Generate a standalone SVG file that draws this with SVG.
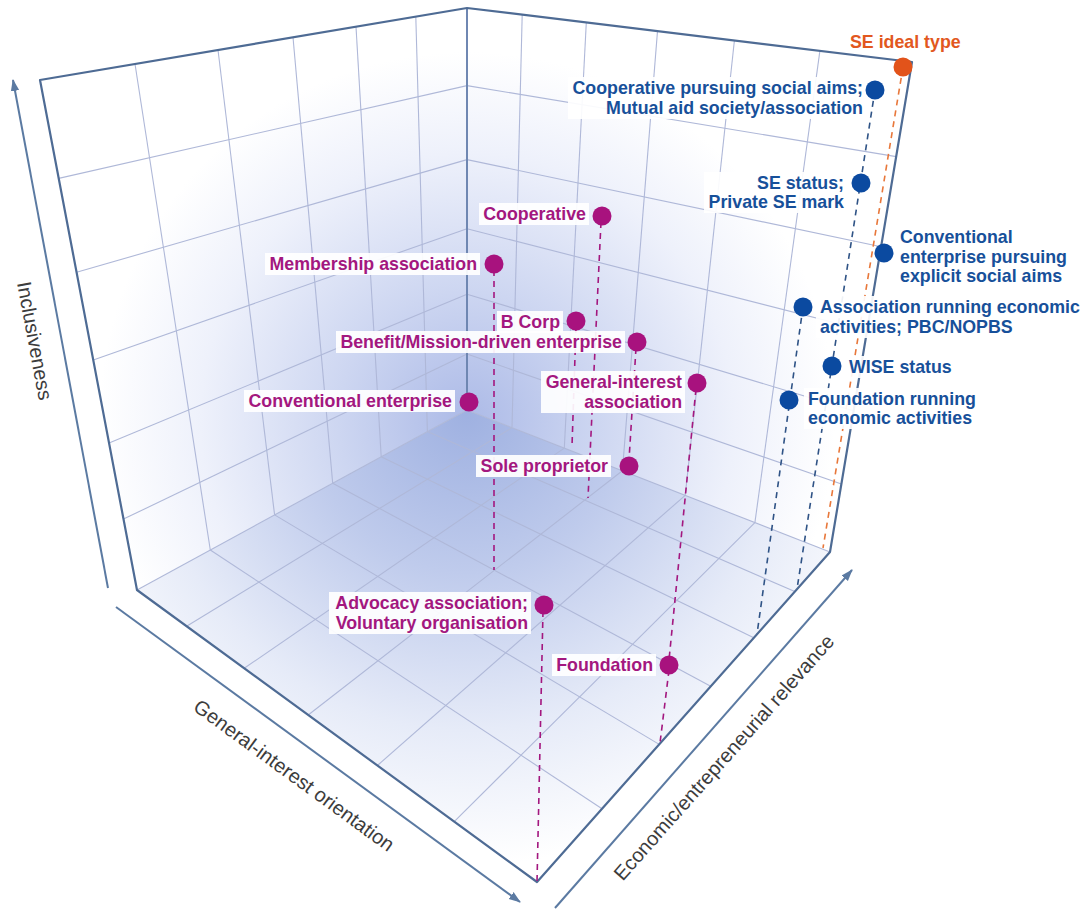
<svg xmlns="http://www.w3.org/2000/svg" width="1085" height="909" viewBox="0 0 1085 909">
<style>
.grid{stroke:#afb8d8;stroke-width:1.1;fill:none}
.edge{stroke:#4e6b94;stroke-width:2.2;fill:none;stroke-linejoin:round}
.axis{stroke:#5b7aa2;stroke-width:2;fill:none;marker-end:url(#ah)}
.axl{font-family:"Liberation Sans",Arial,sans-serif;font-size:20px;fill:#3c3c3c;text-anchor:middle}
.lbl{font-family:"Liberation Sans",Arial,sans-serif;font-size:17.8px;font-weight:bold}
.m{fill:#a3177f}
.b{fill:#17509a}
.o{fill:#e2581e}
.bx{fill:#ffffff;fill-opacity:0.92}
.e{text-anchor:end}
.dm{stroke:#a3177f;stroke-width:1.6;stroke-dasharray:6 5;fill:none}
.db{stroke:#2f5386;stroke-width:1.6;stroke-dasharray:6 5;fill:none}
.do{stroke:#e8773a;stroke-width:1.6;stroke-dasharray:6 5;fill:none}
.dotm{fill:#a8127e}
.dotb{fill:#0b4aa0}
.doto{fill:#e2531a}
</style>
<defs>
<radialGradient id="gFloor" gradientUnits="userSpaceOnUse" cx="467" cy="415" r="450">
<stop offset="0" stop-color="#9fb1e1"/>
<stop offset="0.35" stop-color="#bfcbec"/>
<stop offset="0.7" stop-color="#e6ebf8"/>
<stop offset="1" stop-color="#ffffff"/>
</radialGradient>
<radialGradient id="gWall" gradientUnits="userSpaceOnUse" cx="467" cy="420" r="460">
<stop offset="0" stop-color="#acbae7"/>
<stop offset="0.28" stop-color="#cdd6f1"/>
<stop offset="0.58" stop-color="#eef1fb"/>
<stop offset="0.8" stop-color="#ffffff"/>
</radialGradient>
<marker id="ah" viewBox="0 0 12 10" refX="11" refY="5" markerWidth="12" markerHeight="10" markerUnits="userSpaceOnUse" orient="auto">
<path d="M0,0.8 L12,5 L0,9.2 Z" fill="#5b7aa2"/>
</marker>
</defs>

<g id="box">
<polygon points="40,80 467,8 467,410 137,590" fill="url(#gWall)"/>
<polygon points="467,8 912,62 830,552 467,410" fill="url(#gWall)"/>
<polygon points="467,410 830,552 537,882 137,590" fill="url(#gFloor)"/>
<g class="grid">
<line x1="135" y1="64" x2="210.3" y2="550"/>
<line x1="218" y1="50" x2="274.6" y2="514.9"/>
<line x1="293" y1="37.3" x2="332.7" y2="483.3"/>
<line x1="356" y1="26.7" x2="381.2" y2="456.8"/>
<line x1="415.8" y1="16.6" x2="427.4" y2="431.6"/>
<line x1="58.7" y1="178.4" x2="467" y2="85.6"/>
<line x1="76.6" y1="272.3" x2="467" y2="159.6"/>
<line x1="93.3" y1="360" x2="467" y2="228.7"/>
<line x1="109.1" y1="443.1" x2="467" y2="294.2"/>
<line x1="123.5" y1="519.1" x2="467" y2="354.1"/>
<line x1="522.2" y1="14.7" x2="512" y2="427.6"/>
<line x1="586.3" y1="22.5" x2="564.3" y2="448.1"/>
<line x1="657.5" y1="31.1" x2="622.4" y2="470.8"/>
<line x1="734.4" y1="40.5" x2="685.2" y2="495.3"/>
<line x1="819.9" y1="50.8" x2="754.9" y2="522.6"/>
<line x1="467" y1="85.6" x2="896.2" y2="156.6"/>
<line x1="467" y1="159.6" x2="881.1" y2="246.7"/>
<line x1="467" y1="228.7" x2="867" y2="331"/>
<line x1="467" y1="294.2" x2="853.6" y2="410.9"/>
<line x1="467" y1="354.1" x2="841.4" y2="483.9"/>
<line x1="210.3" y1="550" x2="602" y2="808.7"/>
<line x1="274.6" y1="514.9" x2="659.2" y2="744.4"/>
<line x1="332.7" y1="483.3" x2="710.7" y2="686.3"/>
<line x1="381.2" y1="456.8" x2="753.8" y2="637.8"/>
<line x1="427.4" y1="431.6" x2="794.8" y2="591.6"/>
<line x1="512" y1="427.6" x2="186.6" y2="626.2"/>
<line x1="564.3" y1="448.1" x2="244.2" y2="668.3"/>
<line x1="622.4" y1="470.8" x2="308.2" y2="715"/>
<line x1="685.2" y1="495.3" x2="377.4" y2="765.5"/>
<line x1="754.9" y1="522.6" x2="454.2" y2="821.6"/>
<line x1="137" y1="590" x2="467" y2="410"/>
<line x1="467" y1="410" x2="830" y2="552"/>
</g>
<line x1="467" y1="8" x2="467" y2="410" stroke="#6f87b2" stroke-width="2"/>
<polygon class="edge" points="137,590 40,80 467,8 912,62 830,552 537,882"/>
</g>

<g id="axes">
<line class="axis" x1="108" y1="588" x2="13" y2="80"/>
<line class="axis" x1="116" y1="607" x2="520" y2="902"/>
<line class="axis" x1="555" y1="908" x2="852" y2="570"/>
<text class="axl" transform="translate(28,342) rotate(79.4)">Inclusiveness</text>
<text class="axl" transform="translate(290,781) rotate(36.1)">General-interest orientation</text>
<text class="axl" transform="translate(729,762) rotate(-48.4)">Economic/entrepreneurial relevance</text>
</g>

<g id="connectors">
<line class="dm" x1="494" y1="270" x2="494" y2="570"/>
<line class="dm" x1="601" y1="222" x2="588" y2="498"/>
<line class="dm" x1="576" y1="327" x2="572" y2="446"/>
<line class="dm" x1="636" y1="348" x2="629" y2="460"/>
<line class="dm" x1="696" y1="389" x2="669" y2="660"/>
<line class="dm" x1="669" y1="670" x2="660" y2="743"/>
<line class="dm" x1="543" y1="611" x2="537" y2="882"/>
<line class="db" x1="875" y1="90" x2="797" y2="589"/>
<line class="db" x1="803" y1="307" x2="757" y2="634"/>
<line class="do" x1="903" y1="67" x2="823" y2="548"/>
</g>

<g id="n-se-ideal">
<text class="lbl o" x="850" y="48">SE ideal type</text>
<circle class="doto" cx="903" cy="67" r="9.5"/>
</g>
<g id="n-coop-social">
<rect class="bx" x="568" y="77" width="298" height="42"/>
<text class="lbl b e" x="863" y="94">Cooperative pursuing social aims;</text>
<text class="lbl b e" x="863" y="114">Mutual aid society/association</text>
<circle class="dotb" cx="875" cy="90" r="9.5"/>
</g>
<g id="n-se-status">
<rect class="bx" x="704" y="172" width="143" height="41"/>
<text class="lbl b e" x="844" y="189">SE status;</text>
<text class="lbl b e" x="844" y="208">Private SE mark</text>
<circle class="dotb" cx="861" cy="183" r="9.5"/>
</g>
<g id="n-conv-social">
<rect class="bx" x="896" y="226" width="175" height="61"/>
<text class="lbl b" x="900" y="243">Conventional</text>
<text class="lbl b" x="900" y="262.5">enterprise pursuing</text>
<text class="lbl b" x="900" y="282">explicit social aims</text>
<circle class="dotb" cx="884" cy="253" r="9.5"/>
</g>
<g id="n-assoc-econ">
<rect class="bx" x="816" y="296" width="267" height="42"/>
<text class="lbl b" x="820" y="313">Association running economic</text>
<text class="lbl b" x="820" y="333">activities; PBC/NOPBS</text>
<circle class="dotb" cx="803" cy="307" r="9.5"/>
</g>
<g id="n-wise">
<rect class="bx" x="845" y="356" width="110" height="22"/>
<text class="lbl b" x="849" y="373">WISE status</text>
<circle class="dotb" cx="832" cy="366" r="9.5"/>
</g>
<g id="n-found-econ">
<rect class="bx" x="804" y="388" width="176" height="41"/>
<text class="lbl b" x="808" y="405">Foundation running</text>
<text class="lbl b" x="808" y="424">economic activities</text>
<circle class="dotb" cx="789" cy="400" r="9.5"/>
</g>

<g id="n-cooperative">
<rect class="bx" x="479" y="203" width="110" height="22"/>
<text class="lbl m e" x="586" y="220">Cooperative</text>
<circle class="dotm" cx="602" cy="216" r="9.5"/>
</g>
<g id="n-membership">
<rect class="bx" x="265" y="253" width="215" height="22"/>
<text class="lbl m e" x="477" y="270">Membership association</text>
<circle class="dotm" cx="494" cy="264" r="9.5"/>
</g>
<g id="n-bcorp">
<rect class="bx" x="497" y="311" width="66" height="22"/>
<text class="lbl m e" x="560" y="328">B Corp</text>
<circle class="dotm" cx="576" cy="321" r="9.5"/>
</g>
<g id="n-benefit">
<rect class="bx" x="336" y="331" width="289" height="22"/>
<text class="lbl m e" x="622" y="348">Benefit/Mission-driven enterprise</text>
<circle class="dotm" cx="637" cy="342" r="9.5"/>
</g>
<g id="n-gi-assoc">
<rect class="bx" x="541" y="371" width="144" height="42"/>
<text class="lbl m e" x="682" y="388">General-interest</text>
<text class="lbl m e" x="682" y="408">association</text>
<circle class="dotm" cx="697" cy="383" r="9.5"/>
</g>
<g id="n-conventional">
<rect class="bx" x="244" y="390" width="211" height="22"/>
<text class="lbl m e" x="452" y="407">Conventional enterprise</text>
<circle class="dotm" cx="469" cy="402" r="9.5"/>
</g>
<g id="n-sole">
<rect class="bx" x="476" y="455" width="135" height="22"/>
<text class="lbl m e" x="608" y="472">Sole proprietor</text>
<circle class="dotm" cx="629" cy="466" r="9.5"/>
</g>
<g id="n-advocacy">
<rect class="bx" x="329" y="592" width="202" height="42"/>
<text class="lbl m e" x="528" y="609">Advocacy association;</text>
<text class="lbl m e" x="528" y="629">Voluntary organisation</text>
<circle class="dotm" cx="544" cy="605" r="9.5"/>
</g>
<g id="n-foundation">
<rect class="bx" x="552" y="654" width="104" height="22"/>
<text class="lbl m e" x="653" y="671">Foundation</text>
<circle class="dotm" cx="669" cy="665" r="9.5"/>
</g>
</svg>
